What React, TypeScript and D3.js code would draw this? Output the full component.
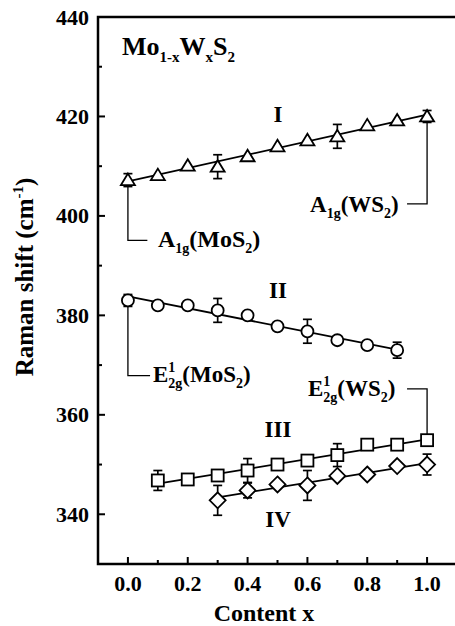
import React from "react";
import * as d3 from "d3";

// series I: A1g mode (triangles)
const contentI = [0, 0.1, 0.2, 0.3, 0.4, 0.5, 0.6, 0.7, 0.8, 0.9, 1.0];
const shiftI = [407.2, 408.2, 410.1, 409.9, 412.0, 414.0, 415.2, 416.0, 418.2, 419.2, 420.0];
const errI = [1.3, 0, 0, 2.4, 0, 0, 0, 2.4, 0, 0, 1.2];

// series II: E12g of MoS2 (circles)
const contentII = [0, 0.1, 0.2, 0.3, 0.4, 0.5, 0.6, 0.7, 0.8, 0.9];
const shiftII = [383.0, 382.0, 382.0, 381.0, 380.0, 377.8, 376.8, 375.0, 374.0, 373.0];
const errII = [1.2, 0, 0, 2.4, 0, 0, 2.4, 0, 0, 1.6];

// series III: E12g of WS2 (squares)
const contentIII = [0.1, 0.2, 0.3, 0.4, 0.5, 0.6, 0.7, 0.8, 0.9, 1.0];
const shiftIII = [346.8, 347.0, 347.8, 348.8, 350.0, 350.8, 351.9, 354.0, 354.0, 354.9];
const errIII = [2.0, 0, 0, 2.4, 0, 0, 2.3, 0, 0, 1.0];

// series IV (diamonds)
const contentIV = [0.3, 0.4, 0.5, 0.6, 0.7, 0.8, 0.9, 1.0];
const shiftIV = [342.8, 344.8, 346.0, 345.8, 347.7, 348.0, 349.7, 350.0];
const errIV = [3.0, 1.5, 0, 3.0, 0, 0, 0, 2.1];

const xTicks = [0, 0.2, 0.4, 0.6, 0.8, 1.0];
const yTicks = [340, 360, 380, 400, 420, 440];

const W = 455;
const H = 626;
const FONT = "Liberation Serif, DejaVu Serif, serif";

const x = d3.scaleLinear().domain([-0.1, 1.1]).range([98, 457]);
const y = d3.scaleLinear().domain([330, 440]).range([564, 17]);

// least squares fit, drawn over the series' own x range
function fit(xs: number[], ys: number[]) {
  const mx = d3.mean(xs)!;
  const my = d3.mean(ys)!;
  const slope =
    d3.sum(xs, (v, i) => (v - mx) * (ys[i] - my)) / d3.sum(xs, v => (v - mx) * (v - mx));
  const b = my - slope * mx;
  const x0 = d3.min(xs)!;
  const x1 = d3.max(xs)!;
  return [
    [x0, b + slope * x0],
    [x1, b + slope * x1]
  ] as [number, number][];
}

function marker(kind: string, cx: number, cy: number, key: number) {
  const st = { fill: "#fff", stroke: "#000", strokeWidth: 1.8 };
  if (kind === "tri") {
    const p = d3.path();
    p.moveTo(cx, cy - 6.5);
    p.lineTo(cx + 7, cy + 5);
    p.lineTo(cx - 7, cy + 5);
    p.closePath();
    return <path key={key} d={p.toString()} {...st} />;
  }
  if (kind === "circ") return <circle key={key} cx={cx} cy={cy} r={6} {...st} />;
  if (kind === "sq") return <rect key={key} x={cx - 6} y={cy - 6} width={12} height={12} {...st} />;
  const p = d3.path();
  p.moveTo(cx, cy - 8);
  p.lineTo(cx + 8, cy);
  p.lineTo(cx, cy + 8);
  p.lineTo(cx - 8, cy);
  p.closePath();
  return <path key={key} d={p.toString()} {...st} />;
}

const series = [
  { xs: contentI, ys: shiftI, es: errI, kind: "tri" },
  { xs: contentII, ys: shiftII, es: errII, kind: "circ" },
  { xs: contentIII, ys: shiftIII, es: errIII, kind: "sq" },
  { xs: contentIV, ys: shiftIV, es: errIV, kind: "dia" }
];

const line = d3.line<[number, number]>().x(d => x(d[0])).y(d => y(d[1]));

const Sub = ({ children }: { children: React.ReactNode }) => (
  <tspan fontSize={14} dy={6}>{children}</tspan>
);

export default function App() {
  const minorX = d3.range(-0.1, 1.1, 0.1).map(v => Math.round(v * 10) / 10).filter(v => v > -0.1);
  const minorY = d3.range(330, 441, 10).filter(v => v > 330 && v < 440);
  const last = (a: number[]) => a[a.length - 1];

  return (
    <svg
      width={W}
      height={H}
      style={{ position: "absolute", left: 0, top: 0, background: "#fff", fontFamily: FONT, fontWeight: "bold" }}
    >
      {/* frame */}
      <path
        d={`M${W + 5},${y(440)}H${x(-0.1)}V${y(330)}H${W + 5}`}
        fill="none"
        stroke="#000"
        strokeWidth={2.5}
      />

      {/* ticks */}
      {minorX.map(v => (
        <line
          key={"xt" + v}
          x1={x(v)}
          x2={x(v)}
          y1={y(330)}
          y2={y(330) - (xTicks.includes(v) ? 7 : 4)}
          stroke="#000"
          strokeWidth={2}
        />
      ))}
      {minorY.map(v => (
        <line
          key={"yt" + v}
          x1={x(-0.1)}
          x2={x(-0.1) + (yTicks.includes(v) ? 7 : 4)}
          y1={y(v)}
          y2={y(v)}
          stroke="#000"
          strokeWidth={2}
        />
      ))}
      {xTicks.map(v => (
        <text key={"xl" + v} x={x(v)} y={591} textAnchor="middle" fontSize={22}>
          {v.toFixed(1)}
        </text>
      ))}
      {yTicks.map(v => (
        <text key={"yl" + v} x={89} y={y(v) + 7.5} textAnchor="end" fontSize={22}>
          {v}
        </text>
      ))}

      {/* axis titles */}
      <text x={264} y={621} textAnchor="middle" fontSize={24}>
        Content x
      </text>
      <text transform="translate(33,277) rotate(-90)" textAnchor="middle" fontSize={25}>
        Raman shift (cm<tspan fontSize={15} dy={-10}>-1</tspan>
        <tspan dy={10}>)</tspan>
      </text>

      {/* fit lines */}
      {series.map((s, i) => (
        <path key={"fit" + i} d={line(fit(s.xs, s.ys))!} fill="none" stroke="#000" strokeWidth={1.8} />
      ))}

      {/* leader lines */}
      <path
        d={`M${x(0)},${y(shiftI[0] - errI[0])}V${y(395.1)}H${x(0.065)}`}
        fill="none"
        stroke="#000"
        strokeWidth={1.3}
      />
      <path
        d={`M${x(1)},${y(last(shiftI) - last(errI))}V${y(402.4)}H${x(0.933)}`}
        fill="none"
        stroke="#000"
        strokeWidth={1.3}
      />
      <path
        d={`M${x(0)},${y(shiftII[0] - errII[0])}V${y(367.9)}H${x(0.074)}`}
        fill="none"
        stroke="#000"
        strokeWidth={1.3}
      />
      <path
        d={`M${x(1)},${y(last(shiftIII) + last(errIII))}V${y(365.2)}H${x(0.933)}`}
        fill="none"
        stroke="#000"
        strokeWidth={1.3}
      />

      {/* error bars and markers */}
      {series.map((s, i) => (
        <g key={"s" + i}>
          {s.xs.map((xv, j) =>
            s.es[j] > 0 ? (
              <g key={j} stroke="#000" strokeWidth={1.7}>
                <line x1={x(xv)} x2={x(xv)} y1={y(s.ys[j] - s.es[j])} y2={y(s.ys[j] + s.es[j])} />
                <line x1={x(xv) - 4.5} x2={x(xv) + 4.5} y1={y(s.ys[j] - s.es[j])} y2={y(s.ys[j] - s.es[j])} />
                <line x1={x(xv) - 4.5} x2={x(xv) + 4.5} y1={y(s.ys[j] + s.es[j])} y2={y(s.ys[j] + s.es[j])} />
              </g>
            ) : null
          )}
          {s.xs.map((xv, j) => marker(s.kind, x(xv), y(s.ys[j]), j))}
        </g>
      ))}

      {/* labels */}
      <text x={122} y={55} fontSize={26}>
        Mo<tspan fontSize={15} dy={7}>1-x</tspan>
        <tspan dy={-7}>W</tspan>
        <tspan fontSize={15} dy={7}>x</tspan>
        <tspan dy={-7}>S</tspan>
        <tspan fontSize={15} dy={7}>2</tspan>
      </text>
      <text x={278} y={122} textAnchor="middle" fontSize={23}>I</text>
      <text x={278} y={298} textAnchor="middle" fontSize={23}>II</text>
      <text x={278} y={437} textAnchor="middle" fontSize={23}>III</text>
      <text x={278} y={527} textAnchor="middle" fontSize={23}>IV</text>

      <text x={158} y={247} fontSize={24}>
        A<Sub>1g</Sub>
        <tspan dy={-6}>(MoS</tspan>
        <Sub>2</Sub>
        <tspan dy={-6}>)</tspan>
      </text>
      <text x={310} y={212} fontSize={23}>
        A<Sub>1g</Sub>
        <tspan dy={-6}>(WS</tspan>
        <Sub>2</Sub>
        <tspan dy={-6}>)</tspan>
      </text>
      <text x={153} y={382} fontSize={23}>
        E<tspan fontSize={14} dy={-10}>1</tspan>
        <tspan fontSize={14} dx={-7} dy={16}>2g</tspan>
        <tspan dy={-6}>(MoS</tspan>
        <Sub>2</Sub>
        <tspan dy={-6}>)</tspan>
      </text>
      <text x={308} y={396} fontSize={23}>
        E<tspan fontSize={14} dy={-10}>1</tspan>
        <tspan fontSize={14} dx={-7} dy={16}>2g</tspan>
        <tspan dy={-6}>(WS</tspan>
        <Sub>2</Sub>
        <tspan dy={-6}>)</tspan>
      </text>
    </svg>
  );
}
